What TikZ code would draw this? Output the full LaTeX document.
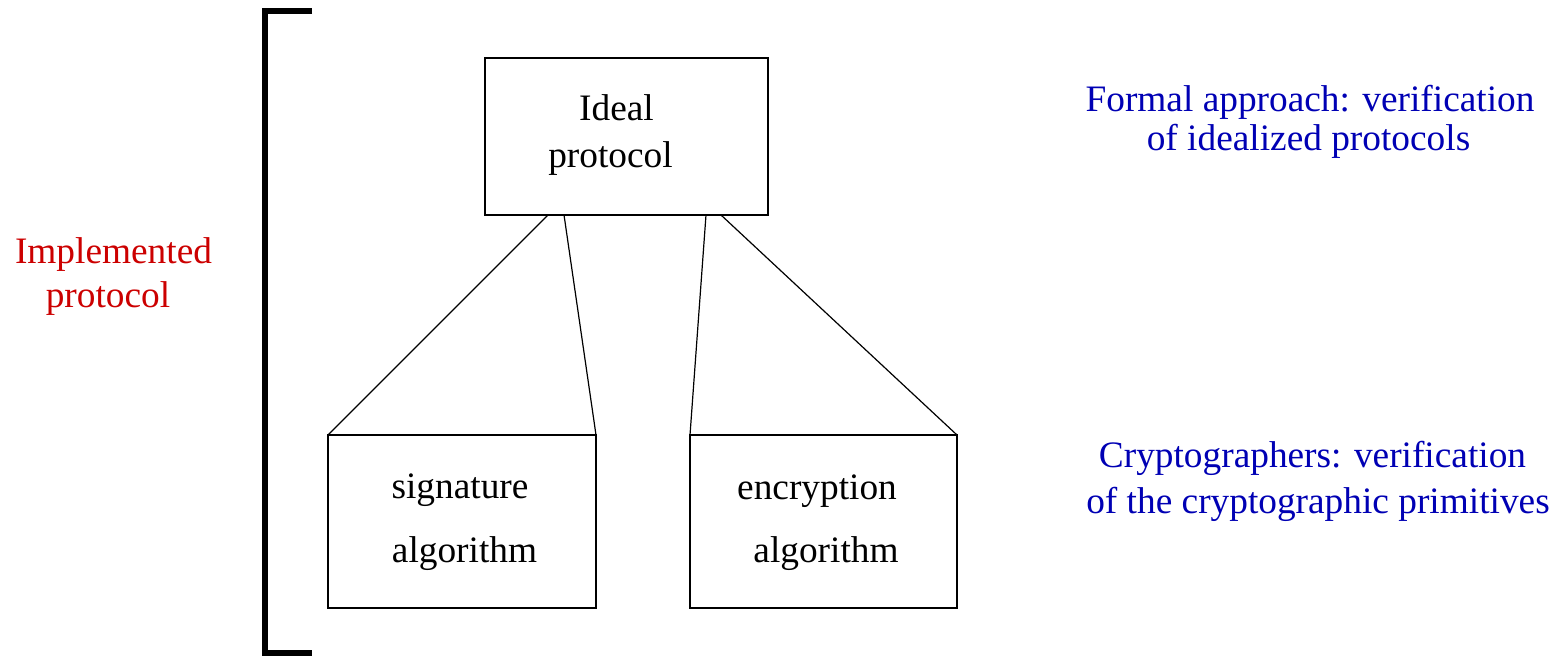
\documentclass[tikz,border=0pt]{standalone}
\usepackage{fontspec}
\setmainfont{Liberation Serif}
\usetikzlibrary{calc}
\definecolor{implred}{RGB}{204,0,0}
\definecolor{noteblue}{RGB}{0,0,180}
\begin{document}
\begin{tikzpicture}[x=0.75pt,y=-0.75pt,
  box/.style={draw=black, line width=0.9pt, rectangle, inner sep=0pt, outer sep=0pt},
  txt/.style={anchor=base, inner sep=0pt, font=\fontsize{28}{34}\selectfont},
  link/.style={draw=black, line width=0.9pt}]
\useasboundingbox (0,0) rectangle (1560,656);

% bracket spanning the whole implementation
\draw[line width=4.5pt, line join=miter] (312,11) -- (265,11) -- (265,653) -- (312,653);

% red label on the left
\node[txt, text=implred] (impl1) at (113.5,263) {Implemented};
\node[txt, text=implred] (impl2) at (108,307) {protocol};

% the three boxes
\node[box, minimum width=212.25pt, minimum height=117.75pt] (ideal) at (626.5,136.5) {};
\node[box, minimum width=201pt, minimum height=129.75pt] (sig) at (462,521.5) {};
\node[box, minimum width=200.25pt, minimum height=129.75pt] (enc) at (823.5,521.5) {};

\node[txt] (ideal1) at (616.5,121) {Ideal};
\node[txt] (ideal2) at (610.5,168) {protocol};
\node[txt] (sig1) at (460,498) {signature};
\node[txt] (sig2) at (464.5,562) {algorithm};
\node[txt] (enc1) at (817,499) {encryption};
\node[txt] (enc2) at (826,562) {algorithm};

% attachment points along the bottom edge of the ideal protocol box
\coordinate (a1) at ($(ideal.south west)!0.2226!(ideal.south east)$);
\coordinate (a2) at ($(ideal.south west)!0.2792!(ideal.south east)$);
\coordinate (a3) at ($(ideal.south west)!0.7809!(ideal.south east)$);
\coordinate (a4) at ($(ideal.south west)!0.8339!(ideal.south east)$);

\draw[link] (a1) -- (sig.north west);
\draw[link] (a2) -- (sig.north east);
\draw[link] (a3) -- (enc.north west);
\draw[link] (a4) -- (enc.north east);

% blue notes on the right
\node[txt, text=noteblue] (formal1) at (1310,112) {Formal approach: verification};
\node[txt, text=noteblue] (formal2) at (1308.5,151) {of idealized protocols};
\node[txt, text=noteblue] (crypto1) at (1312.5,467) {Cryptographers: verification};
\node[txt, text=noteblue] (crypto2) at (1318,513) {of the cryptographic primitives};
\end{tikzpicture}
\end{document}
